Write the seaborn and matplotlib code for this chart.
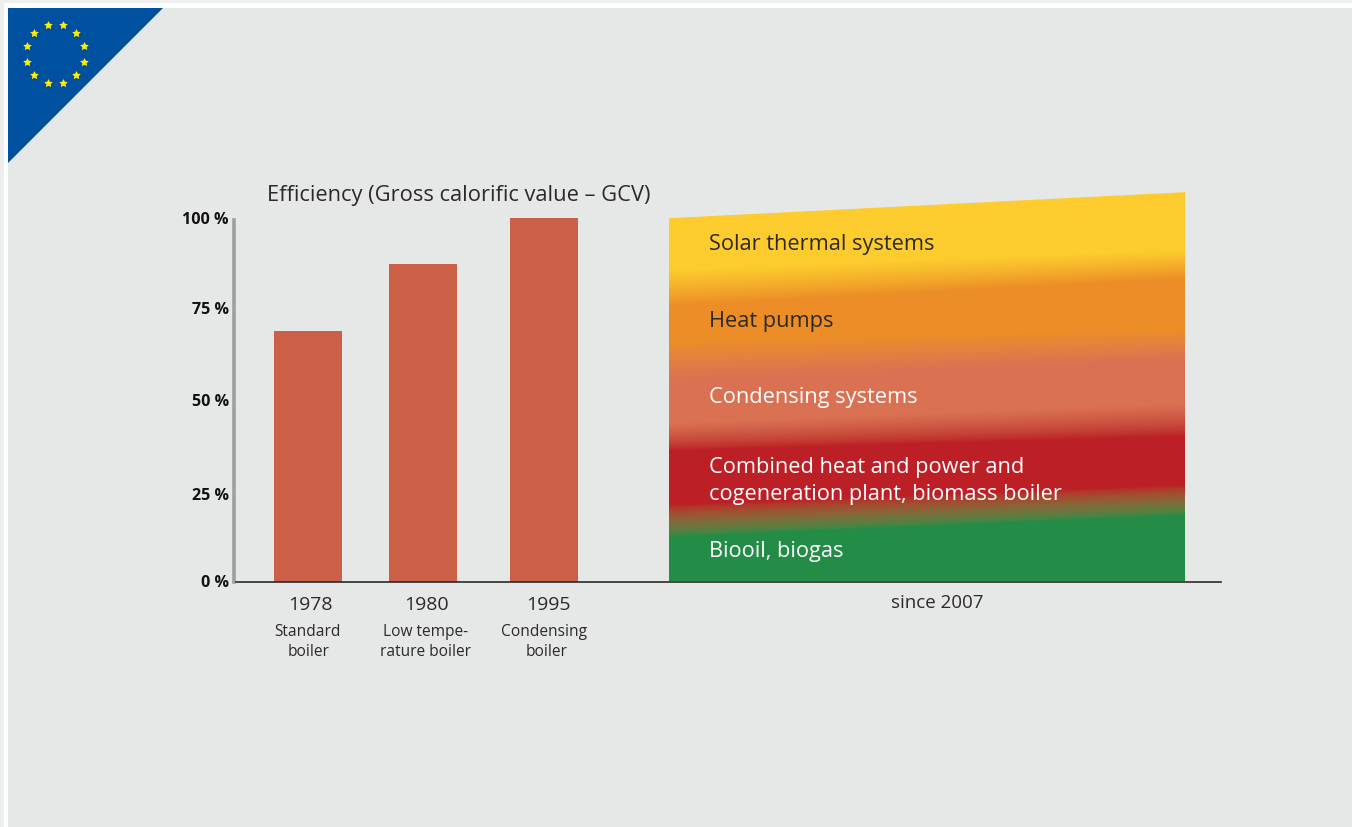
import numpy as np
import pandas as pd
import seaborn as sns
import matplotlib
matplotlib.use("Agg")
import matplotlib.pyplot as plt
from matplotlib.colors import to_rgb
from matplotlib.patches import Polygon, Rectangle
from matplotlib.transforms import ScaledTranslation

# Boiler efficiency by year of introduction
years = ["1978", "1980", "1995"]
boiler_lines_1 = ["Standard", "Low tempe-", "Condensing"]
boiler_lines_2 = ["boiler", "rature boiler", "boiler"]
efficiency = [69.3, 87.8, 100.5]

y_ticks = [0, 25, 50, 75, 100]

# Technologies available since 2007
band_labels = ["Solar thermal systems", "Heat pumps", "Condensing systems",
               "Combined heat and power and\ncogeneration plant, biomass boiler",
               "Biooil, biogas"]
band_colors = ["#FDCC2E", "#EC8D27", "#DA7152", "#BC2026", "#238C46"]

# Upper and lower limit of each solid colour, in percent, at both sides of the area
area_top = [100.5, 107.7]
left_limits = [(86.0, 100.5), (66.0, 76.0), (43.5, 55.5), (21.0, 36.0), (0, 12.0)]
right_limits = [(91.5, 107.7), (69.5, 83.5), (49.0, 61.0), (26.5, 40.0), (0, 18.0)]

BG = "#E6E8E7"
W, H = 1352, 827
PX_ZERO, PX_HUNDRED = 581.5, 220.0
PX_TOP = 185.0
AX_L, AX_R = 236.0, 1221.0
px_per_pct = (PX_ZERO - PX_HUNDRED) / 100

sns.set_theme(style="white")
plt.rcParams["font.family"] = ["Open Sans", "DejaVu Sans"]
TEXT = "#2B2A29"

fig = plt.figure(figsize=(W / 100, H / 100), dpi=100, facecolor="#EDEEEE")

# Page frame and panel
canvas = fig.add_axes([0, 0, 1, 1])
canvas.set_xlim(0, W)
canvas.set_ylim(H, 0)
canvas.axis("off")
canvas.add_patch(Rectangle((4, 3), W, H, color="white", lw=0))
canvas.add_patch(Rectangle((8, 8), W, H, color=BG, lw=0))

# Flag corner
canvas.add_patch(Polygon([(8, 8), (163, 8), (8, 163)], color="#0050A0", lw=0))
angles = np.deg2rad(np.arange(15, 360, 30))
sns.scatterplot(x=55.3 + 29.7 * np.cos(angles), y=54 + 29.7 * np.sin(angles), ax=canvas,
                marker=(5, 1), s=42, color="#FFED00", linewidth=0, legend=False)
canvas.set_xlim(0, W)
canvas.set_ylim(H, 0)

# Chart axes, x in figure pixels so bars and area share one scale
ax = fig.add_axes([AX_L / W, 1 - PX_ZERO / H, (AX_R - AX_L) / W, (PX_ZERO - PX_TOP) / H])
ax.patch.set_alpha(0)
bars = pd.DataFrame({"x": [308, 423, 544], "efficiency": efficiency})
sns.barplot(data=bars, x="x", y="efficiency", native_scale=True, width=68 / 115,
            color="#CC5F47", saturation=1, linewidth=0, ax=ax)
ax.set_xlim(AX_L, AX_R)
ax.set_ylim(0, (PX_ZERO - PX_TOP) / px_per_pct)

# Gradient block with a sloping top; blends run in squared RGB to keep them light
x_left, x_right = 669, 1185
rows, cols = 500, 260
yy = np.linspace(0, area_top[1], rows)
tt = np.linspace(0, 1, cols)
rgb = np.array([to_rgb(c) for c in band_colors])
img = np.zeros((rows, cols, 3))
for j, t in enumerate(tt):
    stops, shades = [], []
    for k in range(len(band_colors) - 1, -1, -1):
        lo = left_limits[k][0] * (1 - t) + right_limits[k][0] * t
        hi = left_limits[k][1] * (1 - t) + right_limits[k][1] * t
        stops += [lo, hi]
        shades += [rgb[k], rgb[k]]
    stops = np.array(stops)
    shades = np.array(shades)
    for c in range(3):
        img[:, j, c] = np.sqrt(np.interp(yy, stops, shades[:, c] ** 2))
im = ax.imshow(img, origin="lower", extent=(x_left, x_right, 0, area_top[1]),
               aspect="auto", interpolation="bilinear", zorder=2)
outline = Polygon([(x_left, 0), (x_right, 0), (x_right, area_top[1]), (x_left, area_top[0])],
                  transform=ax.transData, fc="none", ec="none")
ax.add_patch(outline)
im.set_clip_path(outline)
ax.set_xlim(AX_L, AX_R)
ax.set_ylim(0, (PX_ZERO - PX_TOP) / px_per_pct)

# Axis styling
sns.despine(ax=ax, top=True, right=True)
ax.spines["left"].set_bounds(0, 100)
ax.spines["left"].set_color("#9D9FA2")
ax.spines["left"].set_linewidth(2.6)
ax.spines["left"].set_position(("outward", 1.2))
ax.spines["bottom"].set_color("#2B2A29")
ax.spines["bottom"].set_linewidth(1.2)
ax.spines["bottom"].set_zorder(5)
ax.set_xlabel("")
ax.set_ylabel("")
ax.set_xticks([])
ax.set_yticks(y_ticks)
ax.set_yticklabels([f"{v} %" for v in y_ticks], fontweight="bold", fontsize=11.6, color="#111111")
ax.tick_params(axis="y", direction="inout", length=3.5, width=0.8, color="white", pad=2.2, left=True)
# Small vertical nudges so the percent labels sit beside their ticks
for lab, dy in zip(ax.get_yticklabels(), [0.5, -2.5, 0.5, 2, 1.5]):
    lab.set_transform(lab.get_transform() + ScaledTranslation(0, dy / 100, fig.dpi_scale_trans))

# Titles and labels
canvas.text(267, 195, "Efficiency (Gross calorific value \u2013 GCV)", fontsize=15.75, color=TEXT,
            va="center", ha="left")
for x, y1 in zip([310, 426, 548.5], years):
    canvas.text(x, 605, y1, fontsize=14, color=TEXT, ha="center", va="center")
for x, l1 in zip([307, 425.5, 544.5], boiler_lines_1):
    canvas.text(x, 631.5, l1, fontsize=11.2, color=TEXT, ha="center", va="center")
for x, l2 in zip([309, 425, 546.5], boiler_lines_2):
    canvas.text(x, 651.5, l2, fontsize=11.2, color=TEXT, ha="center", va="center")
canvas.text(937, 603.5, "since 2007", fontsize=13.5, color=TEXT, ha="center", va="center")

label_y = [244.5, 321.5, 397.5, 481, 551.5]
label_colors = [TEXT, TEXT, "white", "white", "white"]
for text, y, col in zip(band_labels, label_y, label_colors):
    fig.text(709.5 / W, 1 - y / H, text, fontsize=15.7, color=col, ha="left",
             va="center", linespacing=1.42, zorder=10)

fig.savefig("out.png", dpi=100, facecolor=fig.get_facecolor())
